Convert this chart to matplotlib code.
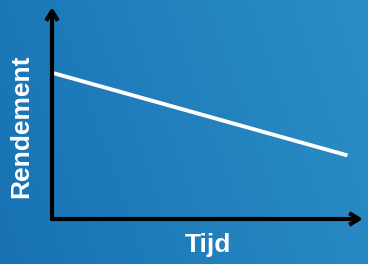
import numpy as np
import matplotlib
matplotlib.use("Agg")
import matplotlib.pyplot as plt

# Data
time = [0.0, 0.95]
rendement = [0.69, 0.30]
x_label = "Tijd"
y_label = "Rendement"

W, H = 368, 264
fig = plt.figure(figsize=(W / 100, H / 100), dpi=100)

# background gradient
bg = fig.add_axes([0, 0, 1, 1])
yy, xx = np.mgrid[0:1:100j, 0:1:100j]
t = (xx * 0.8 + (1 - yy) * 0.2)
c0 = np.array([0x18, 0x72, 0xb4]) / 255
c1 = np.array([0x2b, 0x8e, 0xc6]) / 255
img = c0[None, None, :] * (1 - t[..., None]) + c1[None, None, :] * t[..., None]
bg.imshow(img, extent=[0, 1, 0, 1], aspect="auto", origin="upper")
bg.set_axis_off()

# main axes: origin at pixel (52, 219), x to 363, y up to 7
x0, y0 = 52, 219
x1, y1 = 363, 7
ax = fig.add_axes([x0 / W, (H - y0) / H, (x1 - x0) / W, (y0 - y1) / H])
ax.set_xlim(0, 1)
ax.set_ylim(0, 1)
ax.patch.set_alpha(0)
for s in ax.spines.values():
    s.set_visible(False)
ax.set_xticks([])
ax.set_yticks([])

ax.plot(time, rendement, color="white", lw=2.8, solid_capstyle="butt", zorder=3)

arrow = dict(arrowstyle="->,head_length=0.7,head_width=0.42", color="black", lw=3,
             shrinkA=0, shrinkB=0, capstyle="butt")
ax.annotate("", xy=(0, 1), xytext=(0, -0.005), xycoords="axes fraction",
            arrowprops=arrow, annotation_clip=False)
ax.annotate("", xy=(1, 0), xytext=(-0.005, 0), xycoords="axes fraction",
            arrowprops=arrow, annotation_clip=False)

fig.text(208 / W, 1 - 245 / H, x_label, color="white", fontsize=19, fontweight="bold",
         family="Liberation Sans", ha="center", va="center")
fig.text(21 / W, 1 - 126 / H, y_label, color="white", fontsize=19, fontweight="bold",
         family="Liberation Sans", ha="center", va="center", rotation=90)

fig.savefig("out.png", dpi=100)
